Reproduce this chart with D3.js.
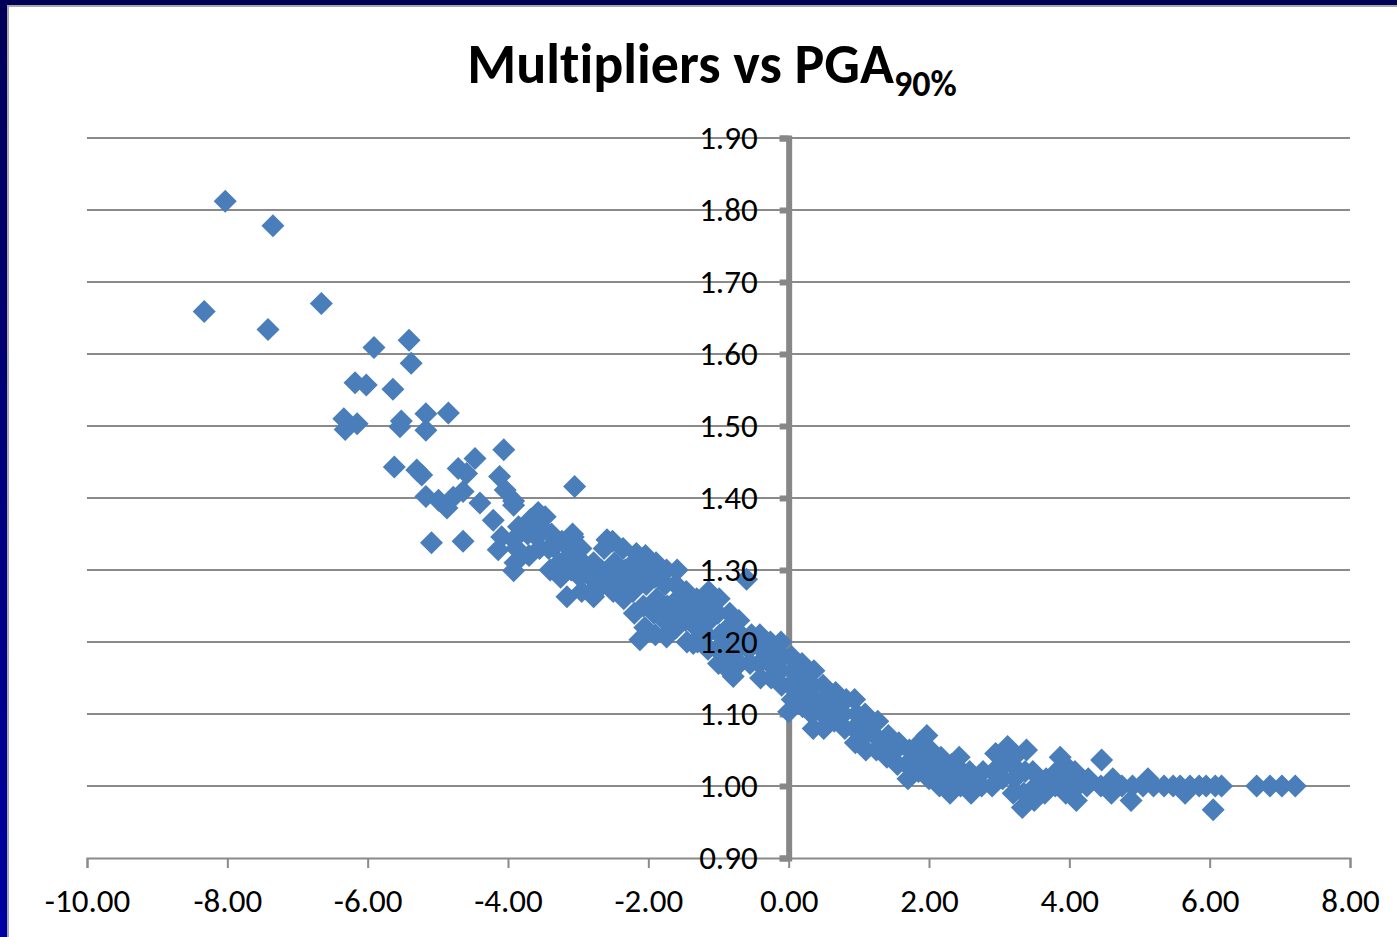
<!DOCTYPE html>
<html>
<head>
<meta charset="utf-8">
<script src="https://cdn.jsdelivr.net/npm/d3@7"></script>
<style>
  body { margin: 0; background: #ffffff; }
  svg { display: block; }
  text { font-variant-ligatures: none; }
</style>
</head>
<body>
<script>

// tick labels
const xTicks = [-10, -8, -6, -4, -2, 0, 2, 4, 6, 8];
const yTicks = [0.9, 1.0, 1.1, 1.2, 1.3, 1.4, 1.5, 1.6, 1.7, 1.8, 1.9];

// scattered points on the left (pga change %, multiplier)
const leftPoints = [
  [-8.03, 1.812], [-7.35, 1.778], [-8.33, 1.659], [-7.42, 1.634], [-6.66, 1.670],
  [-5.91, 1.609], [-5.41, 1.619], [-5.38, 1.587], [-6.18, 1.560], [-6.02, 1.557],
  [-5.64, 1.551], [-6.34, 1.510], [-6.32, 1.495], [-6.15, 1.503], [-5.54, 1.499],
  [-5.52, 1.507], [-5.17, 1.517], [-5.17, 1.494], [-4.85, 1.518],
  [-5.62, 1.443], [-5.30, 1.439], [-5.23, 1.432], [-5.17, 1.402], [-4.99, 1.397],
  [-4.87, 1.386], [-5.09, 1.338], [-4.64, 1.340], [-4.71, 1.441], [-4.47, 1.455],
  [-4.59, 1.434], [-4.64, 1.409], [-4.78, 1.401], [-4.06, 1.467], [-4.12, 1.430],
  [-4.04, 1.411], [-3.92, 1.396], [-4.40, 1.393], [-4.21, 1.369], [-3.05, 1.416],
  [-4.09, 1.346], [-4.14, 1.328], [-3.92, 1.342], [-3.92, 1.299], [-3.64, 1.369],
  [-3.47, 1.374], [-3.59, 1.346], [-3.35, 1.332], [-3.07, 1.346], [-3.16, 1.263],
  [-2.78, 1.263], [-2.59, 1.342], [-2.17, 1.323], [-2.12, 1.203], [-1.74, 1.207],
  [-1.36, 1.198], [-0.60, 1.287], [-0.79, 1.152], [0.00, 1.103]
];

// dense band through the middle
const bandPoints = [
  [-3.90, 1.31], [-3.88, 1.33], [-3.85, 1.36], [-3.92, 1.39],
  [-3.70, 1.32], [-3.72, 1.35], [-3.68, 1.37],
  [-3.55, 1.33], [-3.53, 1.36], [-3.57, 1.38],
  [-3.40, 1.30], [-3.42, 1.33], [-3.38, 1.35],
  [-3.25, 1.29], [-3.27, 1.31], [-3.23, 1.34],
  [-3.10, 1.30], [-3.12, 1.32], [-3.08, 1.35],
  [-2.95, 1.27], [-2.97, 1.29], [-2.93, 1.31], [-2.96, 1.33],
  [-2.80, 1.27], [-2.82, 1.29], [-2.78, 1.31],
  [-2.65, 1.28], [-2.67, 1.30], [-2.63, 1.33],
  [-2.50, 1.27], [-2.52, 1.29], [-2.48, 1.31], [-2.51, 1.34],
  [-2.35, 1.26], [-2.37, 1.28], [-2.33, 1.30], [-2.36, 1.33],
  [-2.20, 1.24], [-2.22, 1.27], [-2.18, 1.29], [-2.21, 1.31],
  [-2.05, 1.22], [-2.07, 1.25], [-2.03, 1.28], [-2.06, 1.30], [-2.04, 1.32],
  [-1.90, 1.21], [-1.92, 1.24], [-1.88, 1.26], [-1.91, 1.29], [-1.89, 1.31],
  [-1.75, 1.21], [-1.77, 1.23], [-1.73, 1.25], [-1.76, 1.28], [-1.74, 1.30],
  [-1.60, 1.22], [-1.62, 1.24], [-1.58, 1.26], [-1.61, 1.28], [-1.59, 1.30],
  [-1.45, 1.20], [-1.47, 1.23], [-1.43, 1.25], [-1.46, 1.27],
  [-1.30, 1.20], [-1.32, 1.22], [-1.28, 1.24], [-1.31, 1.26],
  [-1.15, 1.19], [-1.17, 1.21], [-1.13, 1.23], [-1.16, 1.25], [-1.14, 1.27],
  [-1.00, 1.17], [-1.02, 1.19], [-0.98, 1.21], [-1.01, 1.24], [-0.99, 1.26],
  [-0.85, 1.16], [-0.87, 1.18], [-0.83, 1.20], [-0.86, 1.22], [-0.84, 1.24],
  [-0.70, 1.17], [-0.72, 1.19], [-0.68, 1.21], [-0.71, 1.23],
  [-0.55, 1.17], [-0.57, 1.19], [-0.53, 1.21],
  [-0.40, 1.15], [-0.42, 1.17], [-0.38, 1.19], [-0.41, 1.21],
  [-0.25, 1.15], [-0.27, 1.17], [-0.23, 1.19], [-0.26, 1.20],
  [-0.10, 1.14], [-0.12, 1.16], [-0.08, 1.18], [-0.11, 1.20],
  [0.05, 1.12], [0.03, 1.14], [0.07, 1.16], [0.04, 1.18],
  [0.20, 1.11], [0.18, 1.13], [0.22, 1.15], [0.19, 1.17],
  [0.35, 1.08], [0.33, 1.10], [0.37, 1.12], [0.34, 1.14], [0.36, 1.16],
  [0.50, 1.08], [0.48, 1.10], [0.52, 1.12], [0.49, 1.14],
  [0.65, 1.09], [0.63, 1.11], [0.67, 1.13],
  [0.80, 1.08], [0.78, 1.10], [0.82, 1.12],
  [0.95, 1.06], [0.93, 1.08], [0.97, 1.10], [0.94, 1.12],
  [1.10, 1.05], [1.08, 1.07], [1.12, 1.09], [1.09, 1.10],
  [1.25, 1.05], [1.23, 1.07], [1.27, 1.09],
  [1.40, 1.04], [1.38, 1.06], [1.42, 1.07],
  [1.55, 1.03], [1.53, 1.05], [1.57, 1.06],
  [1.70, 1.01], [1.68, 1.03], [1.72, 1.05],
  [1.85, 1.02], [1.83, 1.04], [1.87, 1.06],
  [2.00, 1.01], [1.98, 1.03], [2.02, 1.05], [1.97, 1.07],
  [2.15, 1.00], [2.13, 1.02], [2.17, 1.04],
  [2.30, 0.99], [2.28, 1.01], [2.32, 1.03]
];

// flat tail on the right
const rightPoints = [
  [2.45, 1.00], [2.47, 1.02], [2.43, 1.04],
  [2.60, 0.99], [2.62, 1.01], [2.58, 1.02],
  [2.75, 1.00], [2.77, 1.02],
  [2.90, 1.00], [2.92, 1.02], [2.95, 1.045],
  [3.05, 1.01], [3.07, 1.03], [3.12, 1.055],
  [3.20, 0.99], [3.22, 1.01], [3.18, 1.03], [3.21, 1.04],
  [3.33, 0.97], [3.35, 0.99], [3.37, 1.02], [3.39, 1.05],
  [3.50, 0.98], [3.52, 1.00], [3.48, 1.02],
  [3.65, 0.99], [3.67, 1.01],
  [3.80, 1.00], [3.82, 1.02], [3.87, 1.04],
  [3.95, 0.99], [3.97, 1.01], [3.93, 1.03],
  [4.10, 0.98], [4.12, 1.00], [4.08, 1.02],
  [4.25, 1.00], [4.27, 1.01],
  [4.46, 1.036], [4.45, 1.00],
  [4.60, 0.99], [4.62, 1.01],
  [4.75, 1.00], [4.88, 0.98], [4.90, 1.00],
  [5.05, 1.00], [5.12, 1.01], [5.20, 1.00], [5.35, 1.00],
  [5.48, 1.00], [5.58, 1.00], [5.65, 0.99], [5.72, 1.00],
  [5.85, 1.00], [5.95, 1.00], [6.05, 0.967], [6.08, 1.00], [6.17, 1.00],
  [6.67, 1.00], [6.86, 1.00], [7.03, 1.00], [7.22, 1.00]
];

function init() {

  const W = 1397, H = 937;
  const font = "Calibri, Carlito, 'Open Sans', sans-serif";
  const fmt = d => d.toFixed(2); // plain hyphen for negatives, like the original

  const svg = d3.select("body").append("svg")
    .attr("width", W)
    .attr("height", H)
  ;

  // slide frame (navy top, blue fading left strip)
  const grad = svg.append("defs").append("linearGradient")
    .attr("id", "side")
    .attr("x1", 0).attr("y1", 0).attr("x2", 0).attr("y2", 1);
  grad.append("stop").attr("offset", "0%").attr("stop-color", "#000058");
  grad.append("stop").attr("offset", "100%").attr("stop-color", "#0000a2");

  svg.append("rect").attr("x", 0).attr("y", 0).attr("width", W).attr("height", H).attr("fill", "#ffffff");
  svg.append("rect").attr("x", 0).attr("y", 0).attr("width", 8).attr("height", H).attr("fill", "url(#side)");
  svg.append("rect").attr("x", 0).attr("y", 0).attr("width", W).attr("height", 5).attr("fill", "#000058");
  svg.append("rect").attr("x", 7).attr("y", 5).attr("width", W - 7).attr("height", 2).attr("fill", "#a9a9a9");
  svg.append("rect").attr("x", 7).attr("y", 5).attr("width", 2).attr("height", H - 5).attr("fill", "#a9a9a9");

  // scales
  const x = d3.scaleLinear().domain([-10, 8]).range([87, 1350]);
  const y = d3.scaleLinear().domain([0.9, 1.9]).range([858, 138]);

  // horizontal gridlines
  svg.append("g")
    .selectAll("line")
    .data(yTicks.slice(1))
    .join("line")
      .attr("x1", x(-10))
      .attr("x2", x(8))
      .attr("y1", d => y(d))
      .attr("y2", d => y(d))
      .attr("stroke", "#8a8a8a")
      .attr("stroke-width", 2)
  ;

  // x axis along the bottom (at 0.90)
  const xAxis = svg.append("g")
    .attr("transform", `translate(0,${y(0.9)})`)
    .call(d3.axisBottom(x).tickValues(xTicks).tickSize(10).tickFormat(fmt));
  xAxis.select(".domain").attr("stroke", "#8a8a8a").attr("stroke-width", 2);
  xAxis.selectAll(".tick line").attr("stroke", "#8a8a8a").attr("stroke-width", 2);
  xAxis.selectAll(".tick text")
    .attr("font-family", font)
    .attr("font-size", 33)
    .attr("fill", "#000")
    .attr("dy", "0.32em")
    .attr("y", 43)
  ;

  // thick y axis through x = 0
  const yAxis = svg.append("g")
    .attr("transform", `translate(${x(0)},0)`)
    .call(d3.axisLeft(y).tickValues(yTicks).tickSize(9).tickFormat(fmt));
  yAxis.select(".domain").attr("stroke", "#878787").attr("stroke-width", 6);
  yAxis.selectAll(".tick line").attr("stroke", "#878787").attr("stroke-width", 6);
  yAxis.selectAll(".tick text").remove();

  // markers
  const allPoints = leftPoints.concat(bandPoints, rightPoints);
  const diamond = d3.symbol().type(d3.symbolSquare).size(265);
  svg.append("g")
    .selectAll("path")
    .data(allPoints)
    .join("path")
      .attr("d", diamond)
      .attr("transform", d => `translate(${x(d[0])},${y(d[1])}) rotate(45)`)
      .attr("fill", "#4a7ebb")
  ;

  // y tick labels go over the markers
  svg.append("g")
    .selectAll("text")
    .data(yTicks)
    .join("text")
      .attr("x", x(0) - 31)
      .attr("y", d => y(d))
      .attr("dy", "0.32em")
      .attr("text-anchor", "end")
      .attr("font-family", font)
      .attr("font-size", 33)
      .attr("fill", "#000")
      .text(fmt)
  ;

  // title with subscript
  const title = svg.append("text")
    .attr("x", 712)
    .attr("y", 83)
    .attr("text-anchor", "middle")
    .attr("font-family", font)
    .attr("font-weight", "bold")
    .attr("fill", "#000")
  ;
  title.append("tspan").attr("font-size", 56).text("Multipliers vs PGA");
  title.append("tspan").attr("font-size", 36).attr("dy", 13).text("90%");
}

init();
</script>
</body>
</html>
